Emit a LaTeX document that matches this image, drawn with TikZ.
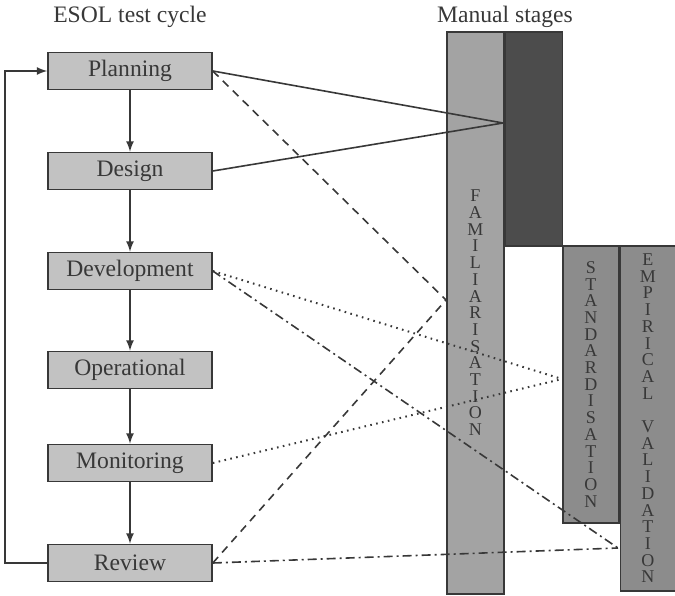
\documentclass[tikz,border=0pt]{standalone}
\usepackage{fontspec}
\setmainfont{Liberation Serif}
\usetikzlibrary{positioning}

\definecolor{boxgray}{gray}{0.76}
\definecolor{famgray}{gray}{0.64}
\definecolor{stdgray}{gray}{0.55}
\definecolor{darkbar}{gray}{0.30}
\definecolor{inkgray}{gray}{0.22}

\begin{document}
\begin{tikzpicture}[x=0.5pt, y=-0.5pt, line width=0.8pt, color=inkgray,
		stage/.style={draw, fill=boxgray, minimum width=82pt, minimum height=18.5pt, inner sep=0pt, font=\fontsize{11.8}{14}\selectfont},
		bar/.style={draw, minimum width=28.5pt, inner sep=0pt, anchor=north west, align=center, font=\fontsize{9}{8.35}\selectfont},
		dashlink/.style={dash pattern=on 4pt off 3pt},
		dotlink/.style={dash pattern=on 0.8pt off 2.2pt, line width=1pt},
		dashdotlink/.style={dash pattern=on 4.5pt off 2pt on 1pt off 2pt}
	]
	\useasboundingbox (0,0) rectangle (675,595);
	% titles
	\node[anchor=base, font=\fontsize{11.8}{14}\selectfont] (cyctitle) at (130,22) {ESOL test cycle};
	\node[anchor=base, font=\fontsize{11.8}{14}\selectfont] (mantitle) at (505,22) {Manual stages};
	% test cycle
	\foreach \nm/\txt/\yy in {plan/Planning/71, des/Design/171, dev/Development/271, op/Operational/370, mon/Monitoring/463, rev/Review/563}
		\node[stage] (\nm) at (130,\yy) {\txt};
	\foreach \a/\b in {plan/des, des/dev, dev/op, op/mon, mon/rev}
		\draw[-latex] (\a) -- (\b);
	\draw[-latex] (rev.west) -- ++(-42,0) |- (plan.west);
	% manual stages
	\node[bar, fill=famgray, minimum height=281pt] (fam) at (446,31) {F\\A\\M\\I\\L\\I\\A\\R\\I\\S\\A\\T\\I\\O\\N};
	\node[bar, fill=darkbar, minimum height=107pt] (dark) at (fam.north east) {};
	\node[bar, fill=stdgray, minimum width=28pt, minimum height=138.5pt] (std) at (562,245) {S\\T\\A\\N\\D\\A\\R\\D\\I\\S\\A\\T\\I\\O\\N};
	\node[bar, fill=stdgray, minimum width=27.5pt, minimum height=172.5pt] (emp) at (std.north east) {E\\M\\P\\I\\R\\I\\C\\A\\L\\~\\V\\A\\L\\I\\D\\A\\T\\I\\O\\N};
	\coordinate (dkhit) at (503,123);
	\coordinate (famhit) at (446,300);
	\coordinate (stdhit) at (562,379);
	\coordinate (emphit) at (618,548);
	% links
	\draw (plan.east) -- (dkhit);
	\draw (des.east) -- (dkhit);
	\draw[dashlink] (plan.east) -- (famhit);
	\draw[dashlink] (rev.east) -- (famhit);
	\draw[dotlink] (dev.east) -- (stdhit);
	\draw[dotlink] (mon.east) -- (stdhit);
	\draw[dashdotlink] (dev.east) -- (emphit);
	\draw[dashdotlink] (rev.east) -- (emphit);
\end{tikzpicture}
\end{document}
